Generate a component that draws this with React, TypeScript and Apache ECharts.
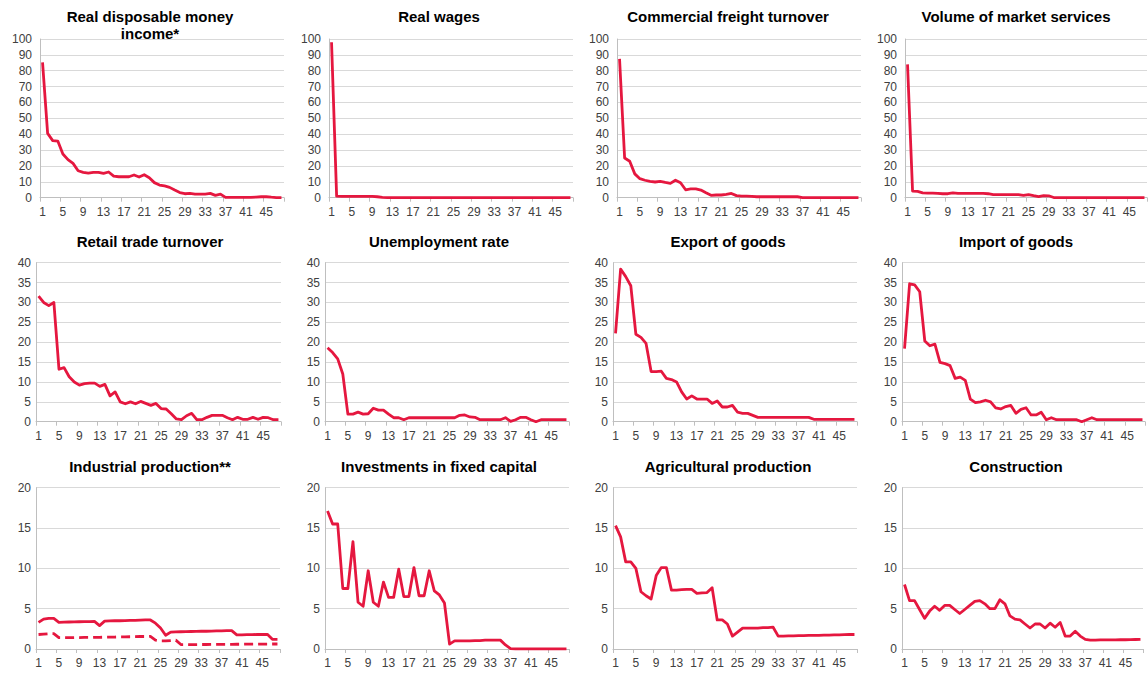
import React, { useEffect, useRef } from "react";
import * as echarts from "echarts";

const categories = [
  "1","2","3","4","5","6","7","8","9","10","11","12","13","14","15","16",
  "17","18","19","20","21","22","23","24","25","26","27","28","29","30","31","32",
  "33","34","35","36","37","38","39","40","41","42","43","44","45","46","47","48",
];

const titles = [
  "Real disposable money\nincome*",
  "Real wages",
  "Commercial freight turnover",
  "Volume of market services",
  "Retail trade turnover",
  "Unemployment rate",
  "Export of goods",
  "Import of goods",
  "Industrial production**",
  "Investments in fixed capital",
  "Agricultural production",
  "Construction",
];

const realIncome = [85.3, 40.5, 36, 35.7, 27.5, 24, 21.6, 17, 16, 15.5, 16, 16, 15.3, 16.2, 13.6, 13.2, 13.2, 13.2, 14.3, 13, 14.5, 12.6, 9.5, 8, 7.4, 6.5, 4.8, 3.2, 2.5, 2.7, 2.3, 2.3, 2.3, 2.7, 1.5, 2.3, 0.2, 0.2, 0.2, 0.2, 0.2, 0.2, 0.4, 0.6, 0.6, 0.3, 0.1, 0.1];
const realWages = [98, 1.0, 0.8, 0.8, 0.8, 0.8, 0.8, 0.8, 0.8, 0.6, 0.2, 0.1, 0.1, 0.1, 0.1, 0.1, 0.1, 0.1, 0.1, 0.1, 0.1, 0.1, 0.1, 0.1, 0.1, 0.1, 0.1, 0.1, 0.1, 0.1, 0.1, 0.1, 0.1, 0.1, 0.1, 0.1, 0.1, 0.1, 0.1, 0.1, 0.1, 0.1, 0.1, 0.1, 0.1, 0.1, 0.1, 0.1];
const freight = [87.5, 25, 23, 15, 12, 11, 10.3, 9.9, 10.3, 9.6, 9, 11, 9.4, 5, 5.5, 5.5, 4.8, 3.1, 1.5, 1.7, 1.7, 2.1, 2.7, 1.3, 1.0, 1.0, 0.8, 0.6, 0.6, 0.6, 0.6, 0.6, 0.6, 0.6, 0.6, 0.6, 0.1, 0.1, 0.1, 0.1, 0.1, 0.1, 0.1, 0.1, 0.1, 0.1, 0.1, 0.1];
const marketServices = [84, 4.2, 4.0, 3.1, 2.9, 2.9, 2.7, 2.5, 2.5, 3.1, 2.7, 2.7, 2.7, 2.7, 2.7, 2.7, 2.5, 1.9, 1.9, 1.9, 1.9, 1.9, 1.9, 1.5, 2.0, 1.3, 0.7, 1.3, 1.2, 0.1, 0.1, 0.1, 0.1, 0.1, 0.1, 0.1, 0.1, 0.1, 0.1, 0.1, 0.1, 0.1, 0.1, 0.1, 0.1, 0.1, 0.1, 0.1];
const retail = [31.6, 30, 29.2, 30, 13.2, 13.6, 11.3, 10, 9.2, 9.6, 9.7, 9.7, 8.9, 9.4, 6.5, 7.5, 5, 4.5, 5, 4.5, 5.1, 4.6, 4.1, 4.6, 3.3, 3.2, 2.0, 0.7, 0.5, 1.5, 2.1, 0.5, 0.5, 1.1, 1.6, 1.6, 1.6, 1.0, 0.5, 1.1, 0.6, 0.6, 1.1, 0.6, 1.1, 1.0, 0.5, 0.5];
const unemployment = [18.6, 17.4, 15.8, 12, 1.9, 1.9, 2.4, 1.9, 2.0, 3.4, 2.9, 2.9, 1.9, 1.0, 1.0, 0.5, 1.0, 1.0, 1.0, 1.0, 1.0, 1.0, 1.0, 1.0, 1.0, 1.0, 1.6, 1.7, 1.2, 1.1, 0.5, 0.5, 0.5, 0.5, 0.5, 1.0, 0.1, 0.5, 1.1, 1.1, 0.5, 0.0, 0.5, 0.5, 0.5, 0.5, 0.5, 0.5];
const exportGoods = [22.2, 38.4, 36.5, 34.2, 22, 21.2, 19.7, 12.6, 12.6, 12.7, 10.9, 10.6, 10, 7.5, 5.7, 6.5, 5.7, 5.7, 5.7, 4.6, 5.2, 3.7, 3.7, 4.1, 2.4, 2.1, 2.1, 1.6, 1.1, 1.1, 1.1, 1.1, 1.1, 1.1, 1.1, 1.1, 1.1, 1.1, 1.1, 0.6, 0.6, 0.6, 0.6, 0.6, 0.6, 0.6, 0.6, 0.6];
const importGoods = [18.4, 34.7, 34.4, 32.7, 20.3, 19.1, 19.5, 14.9, 14.6, 14.1, 10.9, 11.2, 10.4, 5.7, 4.8, 5.0, 5.4, 5.0, 3.5, 3.2, 3.8, 4.1, 2.1, 3.1, 3.5, 1.7, 1.7, 2.4, 0.5, 1.0, 0.5, 0.5, 0.5, 0.5, 0.5, 0.0, 0.5, 1.0, 0.5, 0.5, 0.5, 0.5, 0.5, 0.5, 0.5, 0.5, 0.5, 0.5];
const industrial = [3.3, 3.7, 3.8, 3.8, 3.3, 3.33, 3.35, 3.36, 3.38, 3.4, 3.4, 3.42, 2.9, 3.45, 3.48, 3.5, 3.5, 3.52, 3.55, 3.55, 3.57, 3.6, 3.6, 3.2, 2.6, 1.7, 2.1, 2.12, 2.14, 2.15, 2.17, 2.18, 2.2, 2.2, 2.22, 2.24, 2.25, 2.27, 2.28, 1.75, 1.76, 1.77, 1.78, 1.8, 1.8, 1.82, 1.2, 1.2];
const industrialDashed = [1.8, 1.85, 1.9, 1.9, 1.4, 1.4, 1.4, 1.42, 1.42, 1.44, 1.44, 1.45, 1.45, 1.46, 1.47, 1.48, 1.5, 1.5, 1.52, 1.53, 1.55, 1.55, 1.56, 1.1, 1.0, 1.0, 1.05, 1.1, 0.55, 0.55, 0.55, 0.55, 0.56, 0.56, 0.57, 0.57, 0.58, 0.58, 0.58, 0.59, 0.59, 0.6, 0.6, 0.6, 0.61, 0.61, 0.62, 0.62];
const investment = [17.1, 15.5, 15.5, 7.5, 7.5, 13.3, 5.8, 5.3, 9.7, 5.8, 5.3, 8.3, 6.4, 6.4, 9.9, 6.5, 6.5, 10.1, 6.6, 6.6, 9.7, 7.2, 6.7, 5.7, 0.6, 1.0, 1.0, 1.0, 1.0, 1.05, 1.05, 1.1, 1.1, 1.1, 1.1, 0.5, 0.05, 0, 0, 0, 0, 0, 0, 0, 0, 0, 0, 0];
const agriculture = [15.3, 13.9, 10.8, 10.8, 10.0, 7.1, 6.6, 6.2, 9.1, 10.1, 10.1, 7.3, 7.3, 7.35, 7.4, 7.4, 6.9, 6.95, 7.0, 7.6, 3.6, 3.6, 3.1, 1.6, 2.1, 2.6, 2.6, 2.6, 2.6, 2.65, 2.65, 2.7, 1.6, 1.6, 1.62, 1.63, 1.65, 1.66, 1.68, 1.7, 1.7, 1.72, 1.73, 1.75, 1.76, 1.78, 1.8, 1.8];
const construction = [8.0, 6.0, 6.0, 4.9, 3.8, 4.7, 5.3, 4.8, 5.4, 5.4, 4.9, 4.4, 4.9, 5.4, 5.9, 6.0, 5.6, 5.0, 5.0, 6.1, 5.6, 4.1, 3.7, 3.6, 3.1, 2.6, 3.1, 3.1, 2.6, 3.2, 2.7, 3.3, 1.6, 1.6, 2.2, 1.6, 1.2, 1.1, 1.1, 1.12, 1.12, 1.14, 1.14, 1.15, 1.15, 1.16, 1.18, 1.2];

const panelSeries = [
  [realIncome], [realWages], [freight], [marketServices],
  [retail], [unemployment], [exportGoods], [importGoods],
  [industrial, industrialDashed], [investment], [agriculture], [construction],
];

const rowMax = [100, 40, 20];
const rowInterval = [10, 5, 5];

// layout (pixels)
const rowTop = [39, 262.7, 487.7];
const rowHeight = [158.7, 159, 161.3];
const colLeft = [
  [40, 329, 617, 905],
  [36, 325, 613, 902],
  [36, 325, 613, 902],
];
const colRight = [
  [284, 573, 861, 1147],
  [281, 569, 857, 1145],
  [280, 569, 857, 1143],
];
const titleX = [150, 439, 728, 1016];
const titleY = [16, 241, 466];

const RED = "#E5173F";
const FONT = "'Liberation Sans', Arial, sans-serif";

export default function App() {
  const ref = useRef<HTMLDivElement>(null);
  useEffect(() => {
    if (!ref.current) return;
    const chart = echarts.init(ref.current, null, { renderer: "svg" });
    const grids: any[] = [];
    const xAxes: any[] = [];
    const yAxes: any[] = [];
    const series: any[] = [];
    const graphics: any[] = [];
    for (let p = 0; p < 12; p++) {
      const r = Math.floor(p / 4);
      const c = p % 4;
      grids.push({
        left: colLeft[r][c],
        top: rowTop[r],
        width: colRight[r][c] - colLeft[r][c],
        height: rowHeight[r],
        containLabel: false,
      });
      xAxes.push({
        type: "category",
        gridIndex: p,
        data: categories,
        boundaryGap: true,
        axisLine: { show: true, lineStyle: { color: "#BFBFBF", width: 1 } },
        axisTick: { show: true, interval: 3, length: 4, lineStyle: { color: "#BFBFBF" } },
        axisLabel: {
          interval: 3,
          margin: 8,
          color: "#404040",
          fontSize: 12,
          fontFamily: FONT,
        },
        splitLine: { show: false },
      });
      yAxes.push({
        type: "value",
        gridIndex: p,
        min: 0,
        max: rowMax[r],
        interval: rowInterval[r],
        axisLine: { show: true, lineStyle: { color: "#BFBFBF", width: 1 } },
        axisTick: { show: false },
        axisLabel: {
          margin: r === 0 ? 8 : 5,
          color: "#404040",
          fontSize: 12,
          fontFamily: FONT,
        },
        splitLine: { show: true, lineStyle: { color: "#D9D9D9", width: 1 } },
      });
      panelSeries[p].forEach((data, k) => {
        series.push({
          type: "line",
          xAxisIndex: p,
          yAxisIndex: p,
          data,
          symbol: "none",
          lineStyle: {
            color: RED,
            width: 2.8,
            type: k === 1 ? [9, 5] : "solid",
            join: "round",
          },
          itemStyle: { color: RED },
          z: 3,
        });
      });
      graphics.push({
        type: "text",
        x: titleX[c],
        y: p === 0 ? 24.5 : titleY[r],
        style: {
          text: titles[p],
          fontSize: 15,
          fontWeight: "bold",
          fontFamily: FONT,
          fill: "#000000",
          textAlign: "center",
          textVerticalAlign: "middle",
          lineHeight: 17,
        },
      });
    }
    chart.setOption({
      animation: false,
      backgroundColor: "#FFFFFF",
      grid: grids,
      xAxis: xAxes,
      yAxis: yAxes,
      series,
      graphic: graphics,
    });
    return () => chart.dispose();
  }, []);
  return (
    <div
      ref={ref}
      style={{ position: "fixed", left: 0, top: 0, width: 1148, height: 673 }}
    />
  );
}
